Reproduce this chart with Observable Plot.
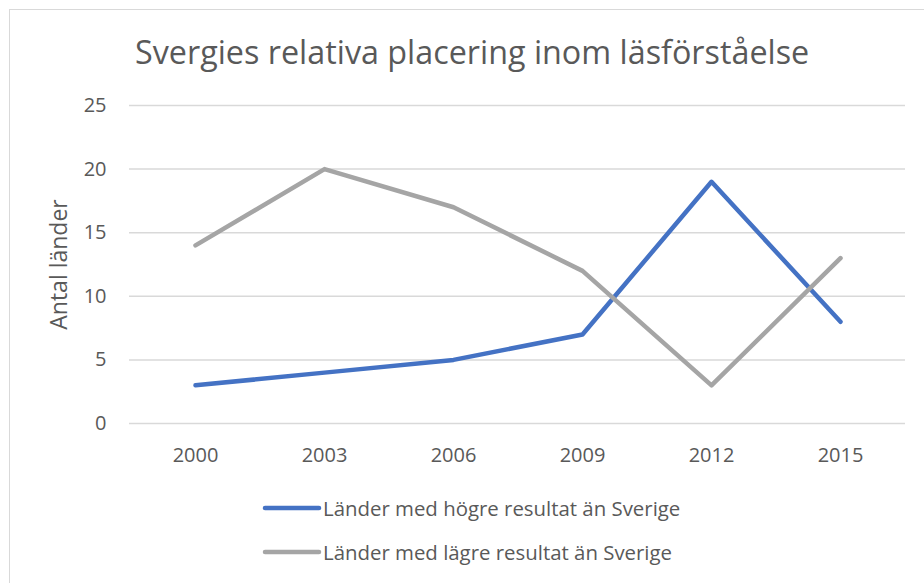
<!DOCTYPE html>
<html>
<head>
<meta charset="utf-8">
<script src="https://cdn.jsdelivr.net/npm/d3@7"></script>
<script src="https://cdn.jsdelivr.net/npm/@observablehq/plot@0.6"></script>
<style>
  body { margin: 0; background: #fff; font-family: "Open Sans", sans-serif; color: #595959; }
  #page { position: relative; width: 924px; height: 583px; overflow: hidden; }
  #frame { position: absolute; left: 9px; top: 9px; width: 1000px; height: 1000px;
           border-left: 1.5px solid #d9d9d9; border-top: 1.5px solid #d9d9d9; }
  #title { position: absolute; left: 135px; top: 25px; font-size: 32.3px; line-height: 52px;
           white-space: nowrap; color: #595959; }
  #chart { position: absolute; left: 0; top: 85px; }
  .leg { position: absolute; left: 262px; height: 30px; display: flex; align-items: center;
         font-size: 20.4px; white-space: nowrap; color: #595959; }
  .leg svg { margin-right: 1px; }
</style>
</head>
<body>
<div id="page">
  <div id="frame"></div>
  <div id="title">Svergies relativa placering inom läsförståelse</div>
  <div id="chart"></div>
  <div id="legend"></div>
</div>
<script>
const years = ["2000", "2003", "2006", "2009", "2012", "2015"];
const seriesNames = ["Länder med högre resultat än Sverige", "Länder med lägre resultat än Sverige"];
const higher = [3, 4, 5, 7, 19, 8];
const lower = [14, 20, 17, 12, 3, 13];
const colors = ["#4472C4", "#A5A5A5"];
const yTicks = [0, 5, 10, 15, 20, 25];
const yLabel = "Antal länder";

const data = [];
years.forEach((y, i) => {
  data.push({year: y, value: higher[i], series: seriesNames[0]});
});
years.forEach((y, i) => {
  data.push({year: y, value: lower[i], series: seriesNames[1]});
});

const chart = Plot.plot({
  width: 924,
  height: 400,
  marginTop: 20,
  marginBottom: 62,
  marginLeft: 129,
  marginRight: 19,
  style: {fontFamily: "Open Sans", fontSize: "20px", color: "#595959", background: "transparent"},
  x: {type: "point", domain: years, padding: 0.5, label: null},
  y: {domain: [0, 25], ticks: yTicks, label: null},
  color: {domain: seriesNames, range: colors},
  marks: [
    Plot.ruleY(yTicks, {stroke: "#d9d9d9", strokeWidth: 1.5}),
    Plot.axisY({ticks: yTicks, tickSize: 0, tickPadding: 23, label: null, fontSize: 20, fill: "#595959"}),
    Plot.axisX({tickSize: 0, tickPadding: 24, label: null, fontSize: 20, fill: "#595959"}),
    Plot.text([yLabel], {text: d => d, frameAnchor: "left", textAnchor: "middle", rotate: -90, dx: -70,
                         fontSize: 23, fill: "#595959"}),
    Plot.line(data, {x: "year", y: "value", stroke: "series", z: "series", strokeWidth: 4.5,
                     strokeLinecap: "round", strokeLinejoin: "round"})
  ]
});
document.getElementById("chart").appendChild(chart);

const legend = document.getElementById("legend");
const rowCenters = [508, 552];
seriesNames.forEach((name, i) => {
  const row = document.createElement("div");
  row.className = "leg";
  row.style.top = (rowCenters[i] - 15) + "px";
  row.innerHTML = `<svg width="60" height="10"><line x1="3" y1="5" x2="57" y2="5" stroke="${colors[i]}" stroke-width="4.5" stroke-linecap="round"/></svg><span>${name}</span>`;
  legend.appendChild(row);
});
</script>
</body>
</html>
